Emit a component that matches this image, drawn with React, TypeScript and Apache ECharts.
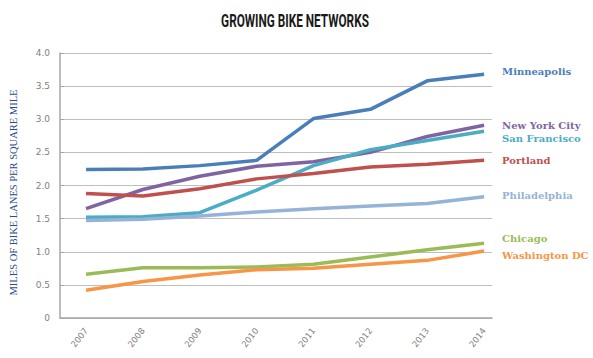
import React, { useEffect, useRef } from "react";
import * as echarts from "echarts";

const years = [2007, 2008, 2009, 2010, 2011, 2012, 2013, 2014];
const minneapolis = [2.24, 2.25, 2.3, 2.38, 3.01, 3.15, 3.58, 3.68];
const newYorkCity = [1.65, 1.94, 2.14, 2.29, 2.36, 2.5, 2.74, 2.91];
const sanFrancisco = [1.52, 1.53, 1.59, 1.93, 2.3, 2.54, 2.68, 2.82];
const portland = [1.88, 1.84, 1.95, 2.1, 2.18, 2.28, 2.32, 2.38];
const philadelphia = [1.47, 1.49, 1.54, 1.6, 1.65, 1.69, 1.73, 1.83];
const chicago = [0.66, 0.76, 0.76, 0.77, 0.81, 0.92, 1.03, 1.13];
const washingtonDC = [0.42, 0.55, 0.65, 0.73, 0.75, 0.81, 0.87, 1.01];

const seriesDefs = [
  { name: "Minneapolis", data: minneapolis, color: "#4a7ebb", offset: [0, -3] },
  { name: "New York City", data: newYorkCity, color: "#8064a2", offset: [0, 0] },
  { name: "San Francisco", data: sanFrancisco, color: "#4bacc6", offset: [0, 7] },
  { name: "Portland", data: portland, color: "#c0504d", offset: [0, 0] },
  { name: "Philadelphia", data: philadelphia, color: "#95b3d7", offset: [0, -1] },
  { name: "Chicago", data: chicago, color: "#9bbb59", offset: [0, -5] },
  { name: "Washington DC", data: washingtonDC, color: "#f79646", offset: [0, 4] },
];

export default function App() {
  const ref = useRef<HTMLDivElement>(null);
  useEffect(() => {
    if (!ref.current) return;
    const chart = echarts.init(ref.current, undefined, { renderer: "svg" });
    chart.setOption({
      animation: false,
      backgroundColor: "#ffffff",
      graphic: [
        {
          type: "text",
          x: 295,
          y: 20,
          scaleX: 0.62,
          style: {
            text: "GROWING BIKE NETWORKS",
            fill: "#1a1a1a",
            font: "bold 19px Roboto",
            textAlign: "center",
            textVerticalAlign: "middle",
          },
        },
      ],
      grid: { left: 56, right: 101, top: 53, bottom: 40 },
      xAxis: {
        type: "value",
        min: 2006.542,
        max: 2014.139,
        splitLine: { show: false },
        axisLine: { show: true, lineStyle: { color: "#a6a6a6", width: 1.5 } },
        axisTick: { show: false },
        axisLabel: {
          customValues: years,
          formatter: (v: number) => String(v),
          rotate: 52,
          margin: 11,
          color: "#7f7f7f",
          fontFamily: "DejaVu Sans",
          fontSize: 8.5,
        },
      },
      yAxis: {
        type: "value",
        min: 0,
        max: 4,
        interval: 0.5,
        name: "MILES OF BIKE LANES PER SQUARE MILE",
        nameLocation: "middle",
        nameRotate: 90,
        nameGap: 41,
        nameTextStyle: {
          color: "#2b4b8c",
          fontFamily: "Liberation Serif",
          fontSize: 10.5,
          padding: [0, 14, 0, 0],
        },
        axisLine: { show: true, lineStyle: { color: "#a6a6a6", width: 1.5 } },
        axisTick: { show: true, inside: true, length: 4, lineStyle: { color: "#a6a6a6" } },
        splitLine: { show: true, lineStyle: { color: "#bfbfbf", width: 1.2 } },
        axisLabel: {
          formatter: (v: number) => (v === 0 ? "0" : v.toFixed(1)),
          color: "#7f7f7f",
          fontFamily: "DejaVu Sans",
          fontSize: 9,
          margin: 10,
        },
      },
      series: seriesDefs.map((s) => ({
        name: s.name,
        type: "line",
        data: s.data.map((v, i) => [years[i], v]),
        showSymbol: false,
        symbol: "none",
        lineStyle: { color: s.color, width: 3.5 },
        itemStyle: { color: s.color },
        endLabel: {
          show: true,
          formatter: s.name,
          color: s.color,
          fontFamily: "DejaVu Serif",
          fontWeight: "bold",
          fontSize: 10,
          distance: 18,
          offset: s.offset,
        },
      })),
    });
    return () => chart.dispose();
  }, []);
  return (
    <div
      ref={ref}
      style={{ position: "fixed", left: 0, top: 0, width: 593, height: 358 }}
    />
  );
}
